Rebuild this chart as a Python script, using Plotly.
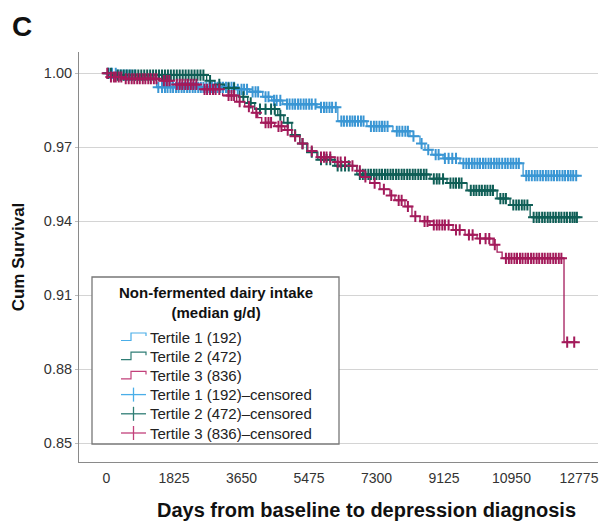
import plotly.graph_objects as go

# ---- data ----
x_ticks = [0, 1825, 3650, 5475, 7300, 9125, 10950, 12775]
y_ticks = [0.85, 0.88, 0.91, 0.94, 0.97, 1.00]

names = ["Tertile 1 (192)", "Tertile 2 (472)", "Tertile 3 (836)"]

t1_times = [0, 300, 1354, 3520, 3872, 4224, 4468, 4766, 5687, 6255, 7041, 7745, 8205, 8476, 8611, 8801, 9099, 9559, 11265]
t1_surv = [1.0, 0.9993, 0.9943, 0.9935, 0.9925, 0.9905, 0.9890, 0.9875, 0.9862, 0.9806, 0.9785, 0.9765, 0.9745, 0.9715, 0.9690, 0.9670, 0.9655, 0.9635, 0.9585]
t1_end = 12728

t2_times = [0, 217, 2708, 2925, 3195, 3602, 3818, 4008, 4631, 4793, 5010, 5226, 5416, 5714, 6174, 6770, 8747, 9207, 9749, 10561, 10913, 11455]
t2_surv = [1.0, 0.9993, 0.9970, 0.9955, 0.9940, 0.9905, 0.9880, 0.9855, 0.9830, 0.9800, 0.9750, 0.9715, 0.9680, 0.9650, 0.9625, 0.9590, 0.9572, 0.9555, 0.9525, 0.9492, 0.9466, 0.9416]
t2_end = 12728

t3_times = [0, 81, 487, 1435, 1787, 2518, 3141, 3520, 3737, 3954, 4089, 4197, 4549, 4820, 5010, 5226, 5443, 5687, 6174, 6580, 6770, 6932, 7122, 7393, 7664, 7799, 8070, 8259, 8476, 8747, 9370, 9695, 10020, 10453, 10561, 10697, 12371]
t3_surv = [1.0, 0.9985, 0.9978, 0.9970, 0.9955, 0.9935, 0.9910, 0.9885, 0.9865, 0.9840, 0.9820, 0.9800, 0.9785, 0.9770, 0.9745, 0.9715, 0.9685, 0.9660, 0.9640, 0.9625, 0.9605, 0.9580, 0.9555, 0.9530, 0.9505, 0.9485, 0.9460, 0.9420, 0.9400, 0.9385, 0.9365, 0.9345, 0.9330, 0.9305, 0.9275, 0.9250, 0.8910]
t3_end = 12728

t1_cens = [60, 150, 250, 320, 400, 480, 560, 650, 760, 1400, 1500, 1580, 1650, 1730, 1800, 1880, 1950, 2030,
           2100, 2180, 2250, 2330, 2400, 2480, 2550, 2620, 2700, 2780, 2850, 2930, 3000, 3080, 3150, 3230,
           3300, 3380, 3450, 3550, 3650, 3720, 3800, 3950, 4030, 4100, 4300, 4380, 4530, 4600, 4700, 4880,
           4950, 5030, 5100, 5180, 5250, 5330, 5400, 5480, 5550, 5650, 5800, 5880, 5950, 6030, 6100, 6200,
           6350, 6420, 6500, 6580, 6650, 6720, 6800, 6880, 6950, 7150, 7230, 7300, 7380, 7450, 7520, 7600,
           7850, 7920, 8000, 8080, 8150, 8300, 8520, 8700, 8900, 8980, 9150, 9250, 9350, 9450, 9650, 9730,
           9800, 9880, 9950, 10030, 10100, 10180, 10250, 10330, 10400, 10480, 10550, 10620, 10700, 10780,
           10850, 10930, 11000, 11080, 11150, 11350, 11420, 11500, 11580, 11650, 11730, 11800, 11880, 11950,
           12030, 12100, 12180, 12250, 12330, 12400, 12480, 12550, 12620, 12700]
t2_cens = [40, 120, 300, 380, 460, 540, 620, 700, 780, 860, 940, 1020, 1100, 1180, 1260, 1340, 1420, 1500,
           1580, 1660, 1740, 1820, 1900, 1980, 2060, 2140, 2220, 2300, 2380, 2460, 2540, 2620, 2800, 3050,
           3300, 3450, 3700, 3900, 4150, 4300, 4450, 4550, 4700, 4900, 5100, 5300, 5550, 5800, 5950, 6050,
           6250, 6350, 6450, 6550, 6850, 6930, 7000, 7080, 7150, 7230, 7300, 7380, 7450, 7530, 7600, 7680,
           7750, 7830, 7900, 7980, 8050, 8130, 8200, 8280, 8350, 8430, 8500, 8580, 8650, 8850, 8930, 9000,
           9100, 9300, 9380, 9450, 9530, 9600, 9850, 9930, 10000, 10080, 10150, 10230, 10300, 10380, 10450,
           10650, 10730, 10800, 11000, 11080, 11150, 11230, 11300, 11380, 11550, 11630, 11700, 11780, 11850,
           11930, 12000, 12080, 12150, 12230, 12300, 12380, 12450, 12530, 12600, 12660, 12720]
t3_cens = [20, 120, 200, 250, 330, 400, 520, 600, 680, 750, 830, 900, 980, 1050, 1130, 1200, 1280, 1350,
           1550, 1630, 1700, 1900, 1980, 2050, 2130, 2200, 2280, 2350, 2430, 2650, 2720, 2800, 2880, 2950,
           3050, 3300, 3380, 3450, 3600, 3850, 4050, 4300, 4380, 4450, 4650, 4730, 4900, 5100, 5300, 5550,
           5800, 5880, 5950, 6050, 6250, 6330, 6450, 6650, 6850, 7000, 7250, 7500, 7700, 7900, 7980, 8150,
           8350, 8600, 8680, 8850, 8930, 9000, 9080, 9150, 9250, 9450, 9550, 9800, 9900, 10100, 10250,
           10350, 10500, 10800, 10880, 10950, 11030, 11100, 11180, 11250, 11330, 11400, 11480, 11550, 11630,
           11700, 11780, 11850, 11930, 12000, 12080, 12150, 12230, 12300, 12457, 12647]

legend_title = "Non-fermented dairy intake<br>(median g/d)"
legend_labels = ["Tertile 1 (192)", "Tertile 2 (472)", "Tertile 3 (836)",
                 "Tertile 1 (192)\u2013censored", "Tertile 2 (472)\u2013censored", "Tertile 3 (836)\u2013censored"]
x_title = "Days from baseline to depression diagnosis"
y_title = "Cum Survival"
panel_label = "C"

colors = ["#3a96d4", "#0f5e56", "#a31a5a"]
legend_colors = ["#4aaee8", "#2f7d75", "#c2407a"]


def surv_at(times, surv, t):
    s = surv[0]
    for ti, si in zip(times, surv):
        if ti <= t:
            s = si
    return s


fig = go.Figure()
groups = [(t1_times, t1_surv, t1_end, t1_cens), (t2_times, t2_surv, t2_end, t2_cens), (t3_times, t3_surv, t3_end, t3_cens)]

for (tt, ss, te, _), nm, c in zip(groups, names, colors):
    fig.add_trace(go.Scatter(
        x=tt + [te], y=ss + [ss[-1]], mode="lines", name=nm,
        line=dict(color=c, width=1.3, shape="hv"),
    ))
for (tt, ss, te, cc), nm, c in zip(groups, names, colors):
    fig.add_trace(go.Scatter(
        x=cc, y=[surv_at(tt, ss, t) for t in cc], mode="markers", name=nm + "\u2013censored",
        marker=dict(symbol="cross-thin-open", size=8, color=c, line=dict(color=c, width=2)),
    ))

# ---- layout geometry (pixels) ----
W, H = 608, 523
L, R, T, B = 79, 10, 52, 61
PW, PH = W - L - R, H - T - B


def px(xp):
    return (xp - L) / PW


def py(yp):
    return (H - B - yp) / PH


font_fam = "Liberation Sans, Arial, sans-serif"
shapes = []
annotations = []

# "C" panel label
annotations.append(dict(text="<b>" + panel_label + "</b>", xref="paper", yref="paper", x=px(10), y=py(27),
                        xanchor="left", yanchor="middle", showarrow=False,
                        font=dict(size=28, color="#111", family=font_fam)))

# x-axis title (offset to the right of the plot centre, as in the reference)
annotations.append(dict(text="<b>" + x_title + "</b>", xref="paper", yref="paper", x=px(366), y=py(510.5),
                        xanchor="center", yanchor="middle", showarrow=False,
                        font=dict(size=20, color="#111", family=font_fam)))

# custom legend box
shapes.append(dict(type="rect", xref="paper", yref="paper", x0=px(92), x1=px(339), y0=py(444), y1=py(277),
                   fillcolor="white", line=dict(color="#777", width=1.3), layer="above"))
annotations.append(dict(text="<b>" + legend_title + "</b>", xref="paper", yref="paper",
                        x=px(215.5), y=py(302.5), xanchor="center", yanchor="middle", align="center",
                        showarrow=False, font=dict(size=15, color="#111", family=font_fam)))
row_y0, row_step = 337, 19.2
for i, lab in enumerate(legend_labels):
    yc = row_y0 + i * row_step
    col = legend_colors[i % 3]
    annotations.append(dict(text=lab, xref="paper", yref="paper", x=px(148), y=py(yc),
                            xanchor="left", yanchor="middle", showarrow=False,
                            font=dict(size=15, color="#222", family=font_fam)))
    if i < 3:
        path = "M {} {} L {} {} L {} {} L {} {} L {} {}".format(
            px(121), py(yc + 3.5), px(131), py(yc + 3.5), px(131), py(yc - 4),
            px(146), py(yc - 4), px(146), py(yc - 1))
        shapes.append(dict(type="path", xref="paper", yref="paper", path=path,
                           line=dict(color=col, width=1.2), layer="above"))
    else:
        shapes.append(dict(type="line", xref="paper", yref="paper", x0=px(121), x1=px(146),
                           y0=py(yc), y1=py(yc), line=dict(color=col, width=1.3), layer="above"))
        shapes.append(dict(type="line", xref="paper", yref="paper", x0=px(133.5), x1=px(133.5),
                           y0=py(yc - 7), y1=py(yc + 7), line=dict(color=col, width=1.3), layer="above"))

fig.update_layout(
    width=W, height=H,
    margin=dict(l=L, r=R, t=T, b=B, autoexpand=False),
    paper_bgcolor="white", plot_bgcolor="white",
    font=dict(family=font_fam, color="#222", size=12),
    showlegend=False,
    xaxis=dict(
        range=[-744, 13290], tickvals=x_ticks, ticktext=[str(v) for v in x_ticks],
        showgrid=False, zeroline=False, showline=True, linecolor="#8a8a8a", linewidth=1,
        ticks="outside", ticklen=3, tickcolor="rgba(0,0,0,0)", tickfont=dict(size=14, color="#333"),
        automargin=False,
    ),
    yaxis=dict(
        range=[0.8424, 1.00864], tickvals=y_ticks, tickformat=".2f",
        showgrid=True, gridcolor="#d4d4d4", gridwidth=1, zeroline=False,
        showline=True, linecolor="#8a8a8a", linewidth=1,
        ticks="outside", ticklen=3, tickcolor="#bbb", tickfont=dict(size=14.5, color="#333"),
        automargin=False,
        title=dict(text="<b>" + y_title + "</b>", font=dict(size=17, color="#111"), standoff=14),
    ),
    shapes=shapes,
    annotations=annotations,
)

fig.write_html("out.html", config={"displayModeBar": False},
               post_script="document.body.style.margin='0px';")
